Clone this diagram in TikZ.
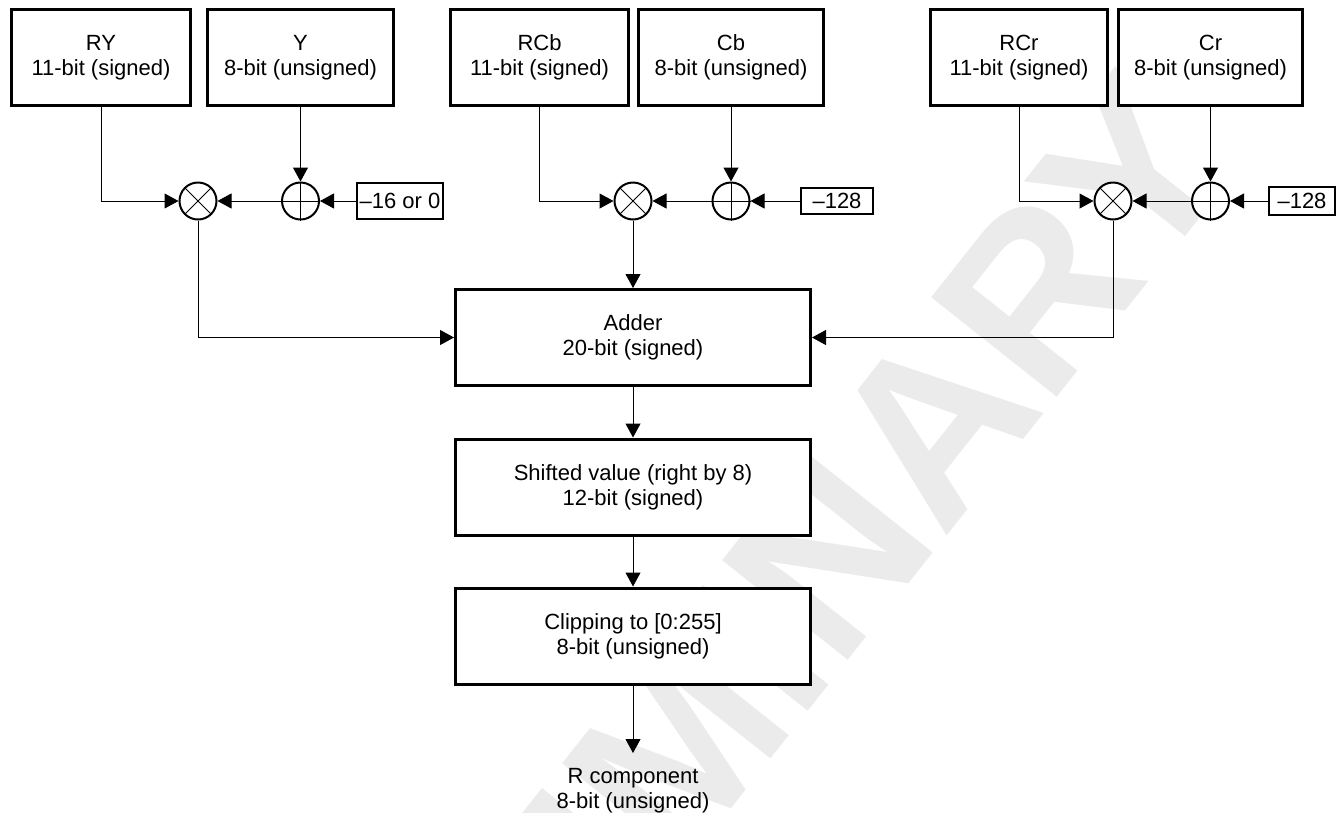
\documentclass[tikz,border=0pt]{standalone}
\usepackage{fontspec}
\setmainfont{Liberation Sans}
\usetikzlibrary{arrows.meta}
\definecolor{wmgray}{RGB}{235,235,235}
\begin{document}
\begin{tikzpicture}[x=1pt,y=-1pt,
  font=\fontsize{22}{25}\selectfont,
  bigbox/.style={draw,line width=3pt,fill=white,align=center,inner sep=0pt},
  constbox/.style={draw,line width=1.8pt,fill=white,inner sep=0pt},
  op/.style={circle,draw,line width=2pt,minimum size=37pt,inner sep=0pt,fill=white},
  conn/.style={line width=1pt,-{Triangle[length=14pt,width=15pt]}},
  wire/.style={line width=1pt},
  watermark/.style={text=wmgray,inner sep=0pt,rotate=51.6,font=\fontsize{233}{233}\selectfont\bfseries}]
\useasboundingbox (0,0) rectangle (1340,812);
\node[watermark] (wm) at (685,738) {PRELIMINARY};

% input boxes
\node[bigbox,minimum width=179pt,minimum height=96pt] (RY) at (101,57.5) {RY\\11-bit (signed)};
\node[bigbox,minimum width=186pt,minimum height=96pt] (Y) at (300.5,57.5) {Y\\8-bit (unsigned)};
\node[bigbox,minimum width=178pt,minimum height=96pt] (RCb) at (539.5,57.5) {RCb\\11-bit (signed)};
\node[bigbox,minimum width=185pt,minimum height=96pt] (Cb) at (731,57.5) {Cb\\8-bit (unsigned)};
\node[bigbox,minimum width=177pt,minimum height=96pt] (RCr) at (1019,57.5) {RCr\\11-bit (signed)};
\node[bigbox,minimum width=184pt,minimum height=96pt] (Cr) at (1210.5,57.5) {Cr\\8-bit (unsigned)};

% operators
\node[op] (m1) at (198,201) {};
\node[op] (a1) at (300.5,201) {};
\node[op] (m2) at (633,201) {};
\node[op] (a2) at (731,201) {};
\node[op] (m3) at (1113,201) {};
\node[op] (a3) at (1210.5,201) {};
\foreach \m in {m1,m2,m3}{
  \draw[wire] (\m.center) ++(-13.4,-13.4) -- ++(26.8,26.8);
  \draw[wire] (\m.center) ++(-13.4,13.4) -- ++(26.8,-26.8);
}
\foreach \a in {a1,a2,a3}{
  \draw[wire] (\a.north) -- (\a.south);
  \draw[wire] (\a.west) -- (\a.east);
}

% constants
\node[constbox,minimum width=86.5pt,minimum height=35.5pt] (k1) at (400,201) {--16 or 0};
\node[constbox,minimum width=72.5pt,minimum height=26.5pt] (k2) at (837,201) {--128};
\node[constbox,minimum width=66.5pt,minimum height=27.5pt] (k3) at (1302,201) {--128};

% processing boxes
\node[bigbox,minimum width=355pt,minimum height=96pt] (add) at (633,337.5) {Adder\\20-bit (signed)};
\node[bigbox,minimum width=355pt,minimum height=96pt] (shift) at (633,487) {Shifted value (right by 8)\\12-bit (signed)};
\node[bigbox,minimum width=355pt,minimum height=96pt] (clip) at (633,636) {Clipping to [0:255]\\8-bit (unsigned)};
\node[align=center,inner xsep=0pt,inner ysep=15pt,anchor=north] (R) at (633,753) {R component\\8-bit (unsigned)};

% connectors
\draw[conn] (RY.south) |- (m1.west);
\draw[conn] (Y.south) -- (a1.north);
\draw[conn] (a1.west) -- (m1.east);
\draw[conn] (k1.west) -- (a1.east);
\draw[conn] (RCb.south) |- (m2.west);
\draw[conn] (Cb.south) -- (a2.north);
\draw[conn] (a2.west) -- (m2.east);
\draw[conn] (k2.west) -- (a2.east);
\draw[conn] (RCr.south) |- (m3.west);
\draw[conn] (Cr.south) -- (a3.north);
\draw[conn] (a3.west) -- (m3.east);
\draw[conn] (k3.west) -- (a3.east);
\draw[conn] (m1.south) |- (add.west);
\draw[conn] (m2.south) -- (add.north);
\draw[conn] (m3.south) |- (add.east);
\draw[conn] (add.south) -- (shift.north);
\draw[conn] (shift.south) -- (clip.north);
\draw[conn] (clip.south) -- (R.north);
\end{tikzpicture}
\end{document}
